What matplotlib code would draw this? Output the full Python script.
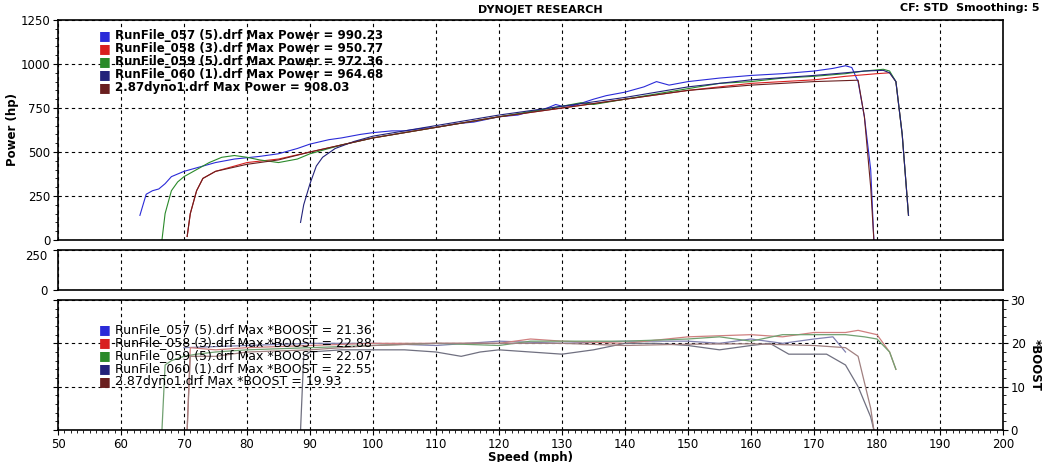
import matplotlib
matplotlib.use("Agg")
import matplotlib.pyplot as plt
from matplotlib.ticker import MultipleLocator

names = ["RunFile_057 (5).drf", "RunFile_058 (3).drf", "RunFile_059 (5).drf", "RunFile_060 (1).drf", "2.87dyno1.drf"]
max_power = ["990.23", "950.77", "972.36", "964.68", "908.03"]
max_boost = ["21.36", "22.88", "22.07", "22.55", "19.93"]
colors = ["#2b2bd8", "#d82020", "#2a8a2a", "#22227a", "#6a1f1f"]
boost_colors = ["#8080b0", "#d08080", "#70a070", "#707080", "#a08080"]

p057_x = [63,64,65,66,67,68,70,72,75,78,82,85,88,90,93,95,98,100,103,105,108,110,113,116,120,123,125,127,129,130,132,135,137,140,143,145,147,150,155,160,165,170,173,175,176,177,178,179,179.5]
p057_y = [140,260,280,290,320,360,390,410,440,460,475,490,520,545,570,580,600,610,620,620,635,640,660,670,700,710,730,740,770,760,765,800,820,840,870,900,880,900,920,935,945,960,975,990,980,900,700,400,0]
p058_x = [70.5,71,72,73,75,78,80,85,90,95,100,110,120,130,140,150,160,170,175,180,182,183,184,185]
p058_y = [20,150,280,350,390,420,440,460,500,540,580,640,700,750,800,850,890,910,930,945,950,900,600,140]
p059_x = [66.5,67,68,69,70,72,74,76,78,80,82,85,88,90,95,100,105,110,115,120,125,130,133,135,140,145,150,155,160,165,170,175,178,181,182,183,184,185]
p059_y = [0,150,280,330,360,400,440,470,480,470,455,440,460,490,540,580,610,640,670,700,730,760,780,770,800,830,860,890,900,920,930,945,960,970,960,900,600,140]
p060_x = [88.5,89,90,91,92,94,97,100,110,120,130,140,150,160,170,175,178,181,182,183,184,185]
p060_y = [100,200,320,420,470,520,560,590,650,710,760,810,870,910,935,950,960,964,950,900,600,140]
p287_x = [70.5,71,72,73,75,80,85,90,100,110,120,130,140,150,160,170,177,178,179,179.5]
p287_y = [20,150,280,350,390,430,455,500,580,640,700,750,800,850,880,900,908,700,300,0]

b057_x = [70,80,90,100,110,120,130,140,150,155,160,165,170,173,175]
b057_y = [19,19.5,20,20,19.5,20.5,20,20.5,20.5,20,21,20,21,21.5,18]
b058_x = [70.5,71,75,80,90,100,110,120,125,130,140,150,160,165,170,175,177,180,182,183]
b058_y = [0,19,18.5,19,19.5,20,20,20,21,20.5,20,21.5,22,21.5,22.5,22.5,23,22,18,14]
b059_x = [66.5,67,68,70,72,75,80,90,100,110,120,125,130,140,150,155,160,165,170,175,178,180,182,183]
b059_y = [0,15,16,17,17.5,18,18.5,19,19.5,20,19.5,20.5,20.5,20.5,21,21.5,20.5,22,22,22,21.5,21,18,14]
b060_x = [88.5,89,90,95,100,105,110,114,117,120,125,130,135,140,145,150,155,160,163,166,170,172,175,177,179,179.5]
b060_y = [0,17,18,18.5,18.5,18.5,18,17,18,18.5,18,17.5,18.5,20,20,19.5,18.5,19.5,20,17.5,17.5,17.5,15,10,3,0]
b287_x = [70.5,71,75,80,90,100,110,120,130,140,150,160,170,175,177,179,179.5]
b287_y = [0,17,17,18,18.5,19.5,20,20,20,19.5,19.8,19.9,19.5,19,17,5,0]

power = [(p057_x, p057_y), (p058_x, p058_y), (p059_x, p059_y), (p060_x, p060_y), (p287_x, p287_y)]
boost = [(b057_x, b057_y), (b058_x, b058_y), (b059_x, b059_y), (b060_x, b060_y), (b287_x, b287_y)]

W, H = 1051, 462
fig = plt.figure(figsize=(W/100, H/100), dpi=100)
def ax_at(l, t, r, b):
    return fig.add_axes([l/W, 1-b/H, (r-l)/W, (b-t)/H])

ax1 = ax_at(58, 20, 1003, 240)
ax2 = ax_at(58, 250, 1003, 290)
ax3 = ax_at(58, 300, 1003, 430)
grid_kw = dict(color="black", linestyle=(0, (3, 3)), linewidth=0.8)
for ax in (ax1, ax2, ax3):
    ax.set_xlim(50, 200)
    ax.xaxis.set_major_locator(MultipleLocator(10))
    ax.xaxis.set_minor_locator(MultipleLocator(1))
    ax.grid(True, axis="x", **grid_kw)
    for s in ax.spines.values():
        s.set_linewidth(1.2)
    ax.tick_params(labelsize=8.5, pad=2)
for ax in (ax1, ax2):
    ax.tick_params(axis="x", labelbottom=False, length=0, which="both")

ax1.set_ylim(0, 1250)
ax1.yaxis.set_major_locator(MultipleLocator(250))
ax1.yaxis.set_minor_locator(MultipleLocator(50))
ax1.grid(True, axis="y", **grid_kw)
ax1.set_ylabel("Power (hp)", fontsize=8.5, fontweight="bold", labelpad=1)
for (x, y), c in zip(power, colors):
    ax1.plot(x, y, color=c, lw=0.8)
for i, (n, m, c) in enumerate(zip(names, max_power, colors)):
    ax1.text(0.043, 0.93 - i*0.059, "\u25A0", color=c, transform=ax1.transAxes, fontsize=9, va="center")
    ax1.text(0.06, 0.93 - i*0.059, f"{n} Max Power = {m}", transform=ax1.transAxes,
             fontsize=8.5, fontweight="bold", va="center")

ax2.set_ylim(0, 250)
ax2.set_yticks([0, 250])
ax2.tick_params(axis="y", pad=4)
ax2.grid(True, axis="y", **grid_kw)
ax2.get_yticklabels()[1].set_va("top")

ax3.set_ylim(0, 30)
ax3.yaxis.tick_right()
ax3.yaxis.set_label_position("right")
ax3.set_yticks([0, 10, 20, 30])
ax3.yaxis.set_minor_locator(MultipleLocator(2))
ax3.tick_params(axis="y", which="both", left=True)
ax3.grid(True, axis="y", **grid_kw)
ax3.set_ylabel("*BOOST", fontsize=8.5, fontweight="bold", rotation=-90, labelpad=12)
ax3.set_xlabel("Speed (mph)", fontsize=8.5, fontweight="bold", labelpad=0)
for (x, y), c in zip(boost, boost_colors):
    ax3.plot(x, y, color=c, lw=0.9)
for i, (n, m, c) in enumerate(zip(names, max_boost, colors)):
    ax3.text(0.043, 0.77 - i*0.1, "\u25A0", color=c, transform=ax3.transAxes, fontsize=9, va="center")
    ax3.text(0.06, 0.77 - i*0.1, f"{n} Max *BOOST = {m}", transform=ax3.transAxes,
             fontsize=9, va="center", family=["Liberation Sans Narrow", "DejaVu Sans"])

fig.text(540/W, 1-10/H, "DYNOJET RESEARCH", fontsize=8, fontweight="bold", ha="center", va="center")
fig.text(1040/W, 1-8/H, "CF: STD  Smoothing: 5", fontsize=8, fontweight="bold", ha="right", va="center")
fig.savefig("out.png", dpi=100)
